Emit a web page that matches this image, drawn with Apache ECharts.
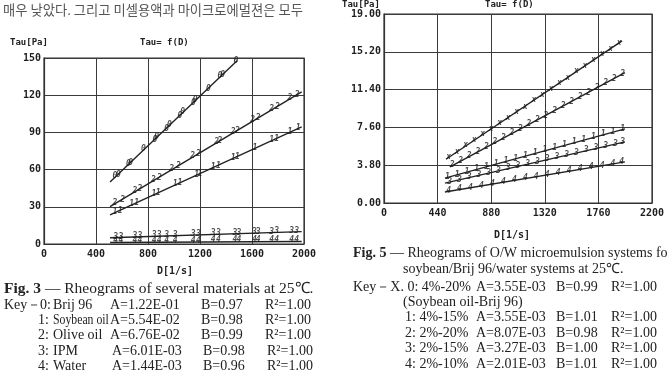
<!DOCTYPE html>
<html>
<head>
<meta charset="utf-8">
<script src="https://cdn.jsdelivr.net/npm/echarts@6/dist/echarts.min.js"></script>
<style>
  html, body { margin: 0; padding: 0; background: #fff; }
  #chart { width: 671px; height: 376px; }
</style>
</head>
<body>
<div id="chart"></div>
<script>
// Fig. 3 (left) - points [D, Tau]
const fig3Brij = [[546,54.5],[572,55.8],[649,64.8],[667,65.4],[764,76.3],[854,84.0],[867,86.7],[944,93.0],[964,96.2],[1046,103.2],[1067,106.6],[1149,113.4],[1162,116.1],[1264,125.1],[1354,135.3],[1374,136.1],[1477,147.5]];
const fig3Soy = [[546,25.9],[585,26.7],[675,32.1],[713,32.9],[846,40.4],[879,40.8],[1008,48.1],[1046,48.9],[1174,56.1],[1200,56.3],[1302,62.3],[1341,63.1],[1456,69.7],[1487,70.1],[1623,77.7],[1751,83.8],[1790,84.7],[1892,90.6],[1956,93.5]];
const fig3Olive = [[546,33.2],[605,35.8],[700,42.9],[738,44.2],[841,51.8],[887,53.6],[982,60.7],[1033,62.8],[1144,70.9],[1187,72.5],[1328,82.6],[1354,83.1],[1456,90.6],[1487,91.5],[1605,100.0],[1648,101.6],[1751,109.2],[1795,110.9],[1892,118.1],[1948,120.6]];
const fig3Ipm = [[551,6.0],[592,6.1],[700,6.6],[738,6.7],[848,7.1],[885,7.2],[944,7.4],[1008,7.6],[1148,8.2],[1187,8.2],[1302,8.7],[1341,8.7],[1469,9.2],[1500,9.3],[1618,9.7],[1648,9.8],[1751,10.1],[1790,10.2],[1905,10.6],[1944,10.8]];
const fig3Water = [[551,2.4],[592,2.4],[700,2.5],[738,2.5],[848,2.6],[885,2.6],[944,2.7],[1008,2.7],[1148,2.8],[1187,2.8],[1302,2.9],[1341,2.9],[1469,3.0],[1500,3.0],[1618,3.1],[1648,3.1],[1751,3.2],[1790,3.2],[1905,3.3],[1944,3.3]];
const fig3Fits = {
  '0': [[508,50],[1487,148]],
  '1': [[508,23.5],[1982,94.4]],
  '2': [[508,30.2],[1982,122.7]],
  '3': [[508,5.0],[1982,10.0]],
  '4': [[508,1.2],[1982,2.0]]
};
const fig3XTicks = [0, 400, 800, 1200, 1600, 2000];
const fig3YTicks = [0, 30, 60, 90, 120, 150];

// Fig. 5 (right) - points [D, Tau]
const fig5X = [[530,4.6],[600,5.1],[670,5.8],[740,6.3],[810,6.9],[880,7.4],[950,8.1],[1020,8.6],[1090,9.2],[1160,9.7],[1230,10.4],[1300,10.9],[1370,11.5],[1440,12.1],[1510,12.6],[1580,13.3],[1650,13.8],[1720,14.4],[1790,15.0],[1860,15.5],[1930,16.1]];
const fig5S1 = [[520,2.6],[600,2.8],[680,3.1],[760,3.4],[840,3.6],[920,3.9],[1000,4.2],[1080,4.4],[1160,4.7],[1240,5.0],[1320,5.3],[1400,5.5],[1480,5.8],[1560,6.1],[1640,6.3],[1720,6.6],[1800,6.9],[1880,7.1],[1960,7.4]];
const fig5S2 = [[560,3.8],[630,4.2],[700,4.7],[770,5.1],[840,5.6],[910,6.1],[980,6.5],[1050,7.0],[1120,7.4],[1190,7.9],[1260,8.4],[1330,8.8],[1400,9.3],[1470,9.8],[1540,10.2],[1610,10.7],[1680,11.1],[1750,11.6],[1820,12.1],[1890,12.5],[1960,13.0]];
const fig5S3 = [[540,2.1],[620,2.3],[700,2.6],[780,2.8],[860,3.0],[940,3.2],[1020,3.5],[1100,3.7],[1180,3.9],[1260,4.1],[1340,4.4],[1420,4.6],[1500,4.8],[1580,5.0],[1660,5.3],[1740,5.5],[1820,5.7],[1900,5.9],[1960,6.1]];
const fig5S4 = [[530,1.2],[620,1.4],[710,1.5],[800,1.7],[890,1.9],[980,2.1],[1070,2.3],[1160,2.5],[1250,2.6],[1340,2.8],[1430,3.0],[1520,3.2],[1610,3.4],[1700,3.6],[1790,3.7],[1880,3.9],[1950,4.1]];
const fig5Fits = {
  'x': [[509,4.4],[1954,16.3]],
  '1': [[500,2.5],[1978,7.45]],
  '2': [[542,3.63],[1978,13.1]],
  '3': [[500,2.0],[1978,6.15]],
  '4': [[500,1.1],[1978,4.13]]
};
const fig5XTicks = [0, 440, 880, 1320, 1760, 2200];
const fig5YTicks = [0, 3.8, 7.6, 11.4, 15.2, 19.0];

const monoFont = 'DejaVu Sans Mono';
const serifFont = 'Liberation Serif';
const ink = '#1e1e1e';

const chart = echarts.init(document.getElementById('chart'));

function xAxisFor(idx, ticks) {
  return {
    type: 'value', gridIndex: idx,
    min: ticks[0], max: ticks[ticks.length - 1], interval: ticks[1] - ticks[0],
    axisLine: { show: true, lineStyle: { color: '#333', width: 1.2 } },
    axisTick: { show: false },
    splitLine: { show: true, lineStyle: { color: '#3a3a3a', width: 1 } },
    axisLabel: { color: ink, fontFamily: monoFont, fontWeight: 'bold', fontSize: 10, margin: 5, formatter: v => String(v) }
  };
}
function yAxisFor(idx, ticks, digits) {
  return {
    type: 'value', gridIndex: idx,
    min: ticks[0], max: ticks[ticks.length - 1], interval: ticks[1] - ticks[0],
    axisLine: { show: true, lineStyle: { color: '#333', width: 1.2 } },
    axisTick: { show: false },
    splitLine: { show: true, lineStyle: { color: '#3a3a3a', width: 1 } },
    axisLabel: {
      color: ink, fontFamily: monoFont, fontWeight: 'bold', fontSize: 10, margin: 3,
      formatter: v => digits ? v.toFixed(digits) : String(Math.round(v))
    }
  };
}

function marks(data, mark, xi, yi) {
  return {
    type: 'scatter', xAxisIndex: xi, yAxisIndex: yi, data: data,
    symbolSize: 1, itemStyle: { color: 'rgba(0,0,0,0)' }, silent: true,
    label: { show: true, position: 'inside', formatter: mark, color: ink, fontFamily: monoFont, fontSize: 8, fontStyle: 'italic', fontWeight: 'bold' },
    labelLayout: { hideOverlap: false },
    z: 4
  };
}
function fit(data, xi, yi) {
  return {
    type: 'line', xAxisIndex: xi, yAxisIndex: yi, data: data,
    showSymbol: false, silent: true,
    lineStyle: { color: '#222', width: 1.4 }, z: 3
  };
}

const series = [
  fit(fig3Fits['0'], 0, 0), fit(fig3Fits['1'], 0, 0), fit(fig3Fits['2'], 0, 0),
  fit(fig3Fits['3'], 0, 0), fit(fig3Fits['4'], 0, 0),
  marks(fig3Brij, '0', 0, 0), marks(fig3Soy, '1', 0, 0), marks(fig3Olive, '2', 0, 0),
  marks(fig3Ipm, '3', 0, 0), marks(fig3Water, '4', 0, 0),
  fit(fig5Fits['x'], 1, 1), fit(fig5Fits['1'], 1, 1), fit(fig5Fits['2'], 1, 1),
  fit(fig5Fits['3'], 1, 1), fit(fig5Fits['4'], 1, 1),
  marks(fig5X, 'x', 1, 1), marks(fig5S1, '1', 1, 1), marks(fig5S2, '2', 1, 1),
  marks(fig5S3, '3', 1, 1), marks(fig5S4, '4', 1, 1)
];

function txt(x, y, text, opts, extra) {
  return Object.assign({
    type: 'text', left: x, top: y, silent: true,
    style: Object.assign({ text: text, fill: '#222', font: '14px "' + serifFont + '"' }, opts || {})
  }, extra || {});
}

const graphics = [
  txt(3, 3, '매우 낮았다. 그리고 미셀용액과 마이크로에멀젼은 모두', { fill: '#555', font: '13.3px "Noto Sans CJK KR"' }),
  // left chart annotations
  txt(10, 38, 'Tau[Pa]', { font: 'bold 9px "' + monoFont + '"' }),
  txt(140, 38, 'Tau= f(D)', { font: 'bold 9px "' + monoFont + '"' }),
  txt(157, 266, 'D[1/s]', { font: 'bold 10px "' + monoFont + '"' }),
  // right chart annotations
  txt(342, 0, 'Tau[Pa]', { font: 'bold 9px "' + monoFont + '"' }),
  txt(485, 0, 'Tau= f(D)', { font: 'bold 9px "' + monoFont + '"' }),
  txt(494, 230, 'D[1/s]', { font: 'bold 10px "' + monoFont + '"' }),
  // Fig. 3 caption
  txt(4, 281, '{b|Fig. 3} — Rheograms of several materials at 25℃.', { font: '15.5px "' + serifFont + '"', rich: { b: { fontWeight: 'bold', fontFamily: serifFont, fontSize: 15.5 } } }),
  txt(4, 298, 'Key－'), txt(40, 298, '0:'), txt(53, 298, 'Brij 96'), txt(110, 298, 'A=1.22E-01'), txt(201, 298, 'B=0.97'), txt(265, 298, 'R²=1.00'),
  txt(38, 313, '1:'), txt(53, 313, 'Soybean oil', null, { scaleX: 0.84 }), txt(110, 313, 'A=5.54E-02'), txt(201, 313, 'B=0.98'), txt(265, 313, 'R²=1.00'),
  txt(38, 328, '2:'), txt(53, 328, 'Olive oil'), txt(110, 328, 'A=6.76E-02'), txt(201, 328, 'B=0.99'), txt(265, 328, 'R²=1.00'),
  txt(38, 344, '3:'), txt(53, 344, 'IPM'), txt(112, 344, 'A=6.01E-03'), txt(203, 344, 'B=0.98'), txt(267, 344, 'R²=1.00'),
  txt(38, 359, '4:'), txt(53, 359, 'Water'), txt(112, 359, 'A=1.44E-03'), txt(203, 359, 'B=0.96'), txt(267, 359, 'R²=1.00'),
  // Fig. 5 caption
  txt(353, 246, '{b|Fig. 5} — Rheograms of O/W microemulsion systems fo', { rich: { b: { fontWeight: 'bold', fontFamily: serifFont, fontSize: 14 } } }),
  txt(403, 262, 'soybean/Brij 96/water systems at 25℃.'),
  txt(353, 280, 'Key－X. 0: 4%-20%'), txt(476, 280, 'A=3.55E-03'), txt(556, 280, 'B=0.99'), txt(611, 280, 'R²=1.00'),
  txt(403, 295, '(Soybean oil-Brij 96)'),
  txt(405, 310, '1: 4%-15%'), txt(476, 310, 'A=3.55E-03'), txt(556, 310, 'B=1.01'), txt(611, 310, 'R²=1.00'),
  txt(405, 326, '2: 2%-20%'), txt(476, 326, 'A=8.07E-03'), txt(556, 326, 'B=0.98'), txt(611, 326, 'R²=1.00'),
  txt(405, 341, '3: 2%-15%'), txt(476, 341, 'A=3.27E-03'), txt(556, 341, 'B=1.00'), txt(611, 341, 'R²=1.00'),
  txt(405, 357, '4: 2%-10%'), txt(476, 357, 'A=2.01E-03'), txt(556, 357, 'B=1.01'), txt(611, 357, 'R²=1.00')
];

chart.setOption({
  backgroundColor: '#fff',
  animation: false,
  grid: [
    { left: 44, top: 58, width: 260, height: 186, show: true, borderColor: '#333', borderWidth: 1.2, backgroundColor: '#fff' },
    { left: 384, top: 14, width: 268, height: 189, show: true, borderColor: '#333', borderWidth: 1.2, backgroundColor: '#fff' }
  ],
  xAxis: [xAxisFor(0, fig3XTicks), xAxisFor(1, fig5XTicks)],
  yAxis: [yAxisFor(0, fig3YTicks, 0), yAxisFor(1, fig5YTicks, 2)],
  series: series,
  graphic: graphics
});
</script>
</body>
</html>
